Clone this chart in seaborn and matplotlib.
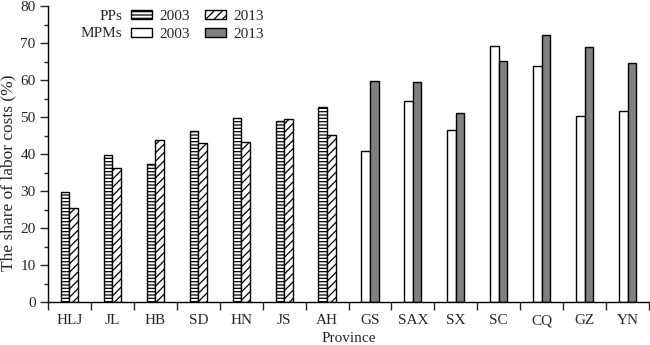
import matplotlib
matplotlib.use("Agg")
import matplotlib.pyplot as plt
import matplotlib.patches as mpatches
from matplotlib.ticker import MultipleLocator
import seaborn as sns
import pandas as pd
import numpy as np

provinces = ["HLJ", "JL", "HB", "SD", "HN", "JS", "AH",
             "GS", "SAX", "SX", "SC", "CQ", "GZ", "YN"]
group = ["PPs"] * 7 + ["MPMs"] * 7
share_2003 = [29.8, 39.7, 37.3, 46.3, 49.8, 49.0, 52.6,
              40.8, 54.3, 46.5, 69.2, 63.9, 50.3, 51.6]
share_2013 = [25.5, 36.1, 43.7, 42.9, 43.3, 49.4, 45.1,
              59.7, 59.5, 51.2, 65.1, 72.1, 68.9, 64.7]
years = ["2003", "2013"]

df = pd.DataFrame({
    "Province": provinces * 2,
    "Group": group * 2,
    "Year": [years[0]] * len(provinces) + [years[1]] * len(provinces),
    "Share": share_2003 + share_2013,
})

sns.set_style("ticks")
plt.rcParams["font.family"] = ["Liberation Serif", "DejaVu Serif"]
plt.rcParams["hatch.linewidth"] = 0.9
plt.rcParams["font.size"] = 11

W, H = 650, 345
fig = plt.figure(figsize=(6.5, 3.45), dpi=100)
ax = fig.add_axes([48 / W, 1 - 302 / H, 601 / W, 296 / H])

sns.barplot(data=df, x="Province", y="Share", hue="Year", hue_order=years,
            order=provinces, width=0.4, ax=ax, legend=False,
            edgecolor="black", linewidth=1.0, saturation=1, errorbar=None)

styles = {
    ("PPs", "2003"): dict(facecolor="white", hatch="-----"),
    ("PPs", "2013"): dict(facecolor="white", hatch="////"),
    ("MPMs", "2003"): dict(facecolor="white", hatch=None),
    ("MPMs", "2013"): dict(facecolor="#808080", hatch=None),
}
for yi, cont in enumerate(ax.containers):
    for pi, bar in enumerate(cont):
        st = styles[(group[pi], years[yi])]
        bar.set_facecolor(st["facecolor"])
        bar.set_hatch(st["hatch"])
        bar.set_edgecolor("black")

ax.set_xlim(-0.5, len(provinces) - 0.5)
ax.set_ylim(0, 80)
ax.yaxis.set_major_locator(MultipleLocator(10))
ax.yaxis.set_minor_locator(MultipleLocator(5))
ax.set_xticks(np.arange(len(provinces) + 1) - 0.5)
ax.set_xticklabels([])
ax.set_xticks(np.arange(len(provinces)), labels=provinces, minor=True)
ax.tick_params(axis="x", which="minor", length=0, labelsize=11, pad=9)
ax.tick_params(axis="x", which="major", length=6, width=1, direction="out")
ax.tick_params(axis="y", which="major", length=6, width=1, direction="out",
               labelsize=11, pad=3)
ax.tick_params(axis="y", which="minor", length=3, width=1, direction="out")
sns.despine(ax=ax)
for s in ["left", "bottom"]:
    ax.spines[s].set_linewidth(1.0)
    ax.spines[s].set_color("black")

ax.set_xlabel("Province", fontsize=11, labelpad=3)
ax.set_ylabel("The share of labor costs (%)", fontsize=12.5)
ax.yaxis.set_label_coords(-0.052, 0.4375)

handles = [
    mpatches.Patch(facecolor="white", edgecolor="black", hatch="-----", label="2003"),
    mpatches.Patch(facecolor="white", edgecolor="black", label="2003"),
    mpatches.Patch(facecolor="white", edgecolor="black", hatch="////", label="2013"),
    mpatches.Patch(facecolor="#808080", edgecolor="black", label="2013"),
]
leg = ax.legend(handles=handles, ncol=2, loc="upper left",
                bbox_to_anchor=(131 / W, 1 - 10 / H), bbox_transform=fig.transFigure,
                frameon=False, fontsize=11, borderpad=0, borderaxespad=0,
                handlelength=1.4, handleheight=0.5, columnspacing=1.0,
                handletextpad=0.45, labelspacing=0.3)
fig.text(122 / W, 1 - 16 / H, "PPs", ha="right", va="center", fontsize=11)
fig.text(122 / W, 1 - 33.5 / H, "MPMs", ha="right", va="center", fontsize=11)

fig.savefig("out.png", dpi=100)
